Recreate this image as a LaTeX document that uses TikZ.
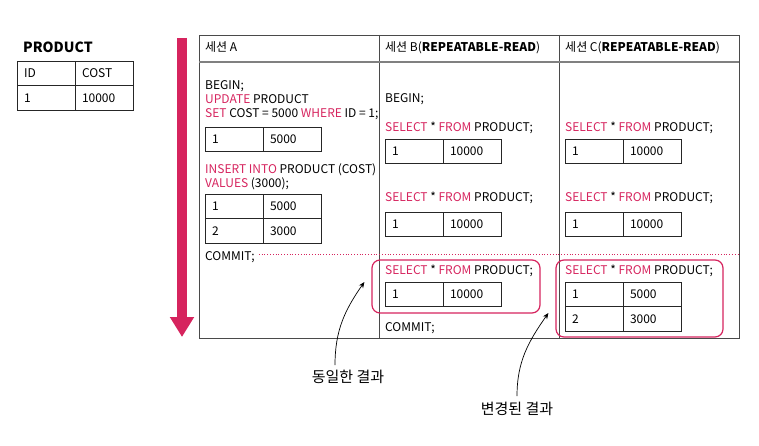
\documentclass[tikz,border=0pt]{standalone}
\usepackage{fontspec}
\setmainfont{Noto Sans CJK KR}
\usetikzlibrary{arrows.meta,positioning}
\definecolor{sqlpink}{HTML}{D6245E}
\definecolor{gridgray}{HTML}{4A4A4A}
\newcommand{\kw}[1]{\textcolor{sqlpink}{#1}}

\begin{document}
\begin{tikzpicture}[x=1pt,y=-1pt,
  txt/.style={anchor=base west, inner sep=0pt, font=\fontsize{12}{14}\selectfont},
  cell/.style={draw=black!85, line width=0.8pt, outer sep=0pt, minimum height=24.5pt, text width=44pt, inner xsep=7pt, inner ysep=0pt, align=left, font=\fontsize{12}{14}\selectfont},
  hlbox/.style={draw=sqlpink, line width=1.2pt, rounded corners=8pt, inner sep=0pt},
  note/.style={font=\fontsize{15}{17}\selectfont, inner sep=1pt},
  pointer/.style={-{Stealth[length=6pt,width=5pt]}, line width=0.7pt},
  gridline/.style={draw=gridgray, line width=0.9pt}]
\useasboundingbox (0,0) rectangle (759,446);

% base table
\node[anchor=base west, inner sep=0pt, font=\fontsize{14}{16}\selectfont\bfseries] (ttl) at (23,53) {PRODUCT};
\node[cell, anchor=north west] (p0l) at (17,61) {ID};
\node[cell, right=0pt of p0l] (p0r) {COST};
\node[cell, below=0pt of p0l] (p1l) {1};
\node[cell, right=0pt of p1l] (p1r) {10000};

% timeline
\coordinate (tTop) at (182,38);
\coordinate (tBot) at (182,337);
\draw[sqlpink, line width=10pt, -{Triangle[length=20pt,width=23pt]}] (tTop) -- (tBot);

% session grid
\draw[gridline] (199,35) rectangle (739,338);
\draw[gridline] (379,35) -- (379,338);
\draw[gridline] (559,35) -- (559,338);
\draw[draw=gray, line width=1.3pt] (199,62) -- (739,62);

% session A
\node[txt] (hdrA) at (205,51.5) {세션 A};
\node[txt] (begA) at (205,90) {BEGIN;};
\node[txt] (updA) at (205,104) {\kw{UPDATE} PRODUCT};
\node[txt] (setA) at (205,117.5) {\kw{SET} COST = 5000 \kw{WHERE} ID = 1;};
\node[cell, anchor=north west] (a1l) at (205,127) {1};
\node[cell, right=0pt of a1l] (a1r) {5000};
\node[txt] (insA) at (205,174) {\kw{INSERT INTO} PRODUCT (COST)};
\node[txt] (valA) at (205,188) {\kw{VALUES} (3000);};
\node[cell, anchor=north west] (a2l) at (205,194) {1};
\node[cell, right=0pt of a2l] (a2r) {5000};
\node[cell, below=0pt of a2l] (a3l) {2};
\node[cell, right=0pt of a3l] (a3r) {3000};
\node[txt] (comA) at (205,260) {COMMIT;};
\coordinate (dotEnd) at (739,254);
\draw[sqlpink, line width=0.8pt, dotted] ([xshift=4pt]comA.east |- dotEnd) -- (dotEnd);

% session B
\node[txt] (hdrB) at (385,51.5) {세션 B(\textbf{REPEATABLE-READ})};
\node[txt] (begB) at (385,103) {BEGIN;};
\node[txt] (selB1) at (385,132) {\kw{SELECT} * \kw{FROM} PRODUCT;};
\node[cell, anchor=north west] (b1l) at (385,139) {1};
\node[cell, right=0pt of b1l] (b1r) {10000};
\node[txt] (selB2) at (385,202) {\kw{SELECT} * \kw{FROM} PRODUCT;};
\node[cell, anchor=north west] (b2l) at (385,212) {1};
\node[cell, right=0pt of b2l] (b2r) {10000};
\node[hlbox, minimum width=168pt, minimum height=53pt] (hlB) at (456,286.5) {};
\node[txt] (selB3) at (385,274) {\kw{SELECT} * \kw{FROM} PRODUCT;};
\node[cell, anchor=north west] (b3l) at (385,282) {1};
\node[cell, right=0pt of b3l] (b3r) {10000};
\node[txt] (comB) at (385,331) {COMMIT;};

% session C
\node[txt] (hdrC) at (565,51.5) {세션 C(\textbf{REPEATABLE-READ})};
\node[txt] (selC1) at (565,132) {\kw{SELECT} * \kw{FROM} PRODUCT;};
\node[cell, anchor=north west] (c1l) at (565,139) {1};
\node[cell, right=0pt of c1l] (c1r) {10000};
\node[txt] (selC2) at (565,202) {\kw{SELECT} * \kw{FROM} PRODUCT;};
\node[cell, anchor=north west] (c2l) at (565,212) {1};
\node[cell, right=0pt of c2l] (c2r) {10000};
\node[hlbox, minimum width=167pt, minimum height=77pt] (hlC) at (639.5,298.5) {};
\node[txt] (selC3) at (565,274) {\kw{SELECT} * \kw{FROM} PRODUCT;};
\node[cell, anchor=north west] (c3l) at (565,282) {1};
\node[cell, right=0pt of c3l] (c3r) {5000};
\node[cell, below=0pt of c3l] (c4l) {2};
\node[cell, right=0pt of c4l] (c4r) {3000};

% notes
\node[note] (same) at (348,377) {동일한 결과};
\node[note] (chg) at (517,409) {변경된 결과};
\draw[pointer] ([xshift=-13pt,yshift=4pt]same.north) to[out=90,in=235] ([xshift=-7pt,yshift=4.5pt]hlB.west);
\draw[pointer] ([yshift=5pt]chg.north) to[out=90,in=235] ([xshift=-7pt,yshift=-14.5pt]hlC.west);
\end{tikzpicture}
\end{document}
